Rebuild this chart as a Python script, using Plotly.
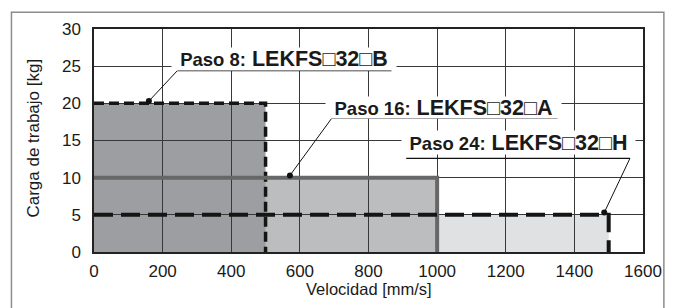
import plotly.graph_objects as go

# ---- data ----
speed_ticks = [0, 200, 400, 600, 800, 1000, 1200, 1400, 1600]
load_ticks = [0, 5, 10, 15, 20, 25, 30]
step_labels = ["Paso 8:", "Paso 16:", "Paso 24:"]
model_labels = ["LEKFS\u25a132\u25a1B", "LEKFS\u25a132\u25a1A", "LEKFS\u25a132\u25a1H"]
max_speed = [500, 1000, 1500]      # mm/s
max_load = [20, 10, 5]             # kg
dot_speed = [160, 571, 1487]       # leader-line anchor points on each curve
dot_load = [20.3, 10.3, 5.3]

# ---- styles ----
fill_colors = ["#9d9ea1", "#bcbdbf", "#e0e1e2"]
line_styles = [
    dict(color="#151515", width=3.5, dash="10px,5px"),
    dict(color="#676767", width=4, dash="solid"),
    dict(color="#151515", width=4, dash="19px,8px"),
]
# label boxes: (centre x, centre y, width px, height px, underline x0, x1, underline y)
label_boxes = [
    (553, 26.0, 224, 22, 243, 867, 24.4),
    (1019, 19.45, 235, 21, 693, 1351, 18.0),
    (1236, 14.7, 233, 23, 910, 1562, 12.6),
]
leader_start = [(243, 24.4), (693, 18.0), (1562, 12.6)]

FONT = "Liberation Sans, Arial, Helvetica, sans-serif"
TXT = "#1a1a1a"

fig = go.Figure()

shapes = []
# filled regions (below grid lines), draw widest/lightest first
for i in [2, 1, 0]:
    shapes.append(dict(type="rect", xref="x", yref="y", x0=0, x1=max_speed[i],
                       y0=0, y1=max_load[i], fillcolor=fill_colors[i],
                       line=dict(width=0), layer="below"))

# boundary lines
for i in range(3):
    fig.add_trace(go.Scatter(
        x=[0, max_speed[i], max_speed[i]], y=[max_load[i], max_load[i], 0],
        mode="lines", line=line_styles[i], showlegend=False, hoverinfo="skip"))

# leader lines and underlines
for i in range(3):
    cx, cy, w, h, ux0, ux1, uy = label_boxes[i]
    sx, sy = leader_start[i]
    shapes.append(dict(type="line", xref="x", yref="y", x0=sx, y0=sy,
                       x1=dot_speed[i], y1=dot_load[i],
                       line=dict(color="#111", width=1), layer="above"))
    shapes.append(dict(type="line", xref="x", yref="y", x0=ux0, y0=uy,
                       x1=ux1, y1=uy, line=dict(color="#111", width=1.2),
                       layer="above"))

# dots
fig.add_trace(go.Scatter(x=dot_speed, y=dot_load, mode="markers",
                         marker=dict(color="#111", size=6),
                         showlegend=False, hoverinfo="skip"))

# page pixel -> paper coordinates (the page body has an 8px margin)
def px_x(px):
    return (px - 94) / 552

def px_y(py):
    return (252 - py) / 226

shapes.append(dict(type="rect", xref="paper", yref="paper",
                   x0=px_x(11), x1=px_x(667), y0=px_y(330), y1=px_y(9),
                   line=dict(color="#8c8c8c", width=1.5), fillcolor="rgba(0,0,0,0)",
                   layer="below"))

annotations = []
for i in range(3):
    cx, cy, w, h, ux0, ux1, uy = label_boxes[i]
    annotations.append(dict(
        x=cx, y=cy, xref="x", yref="y", showarrow=False,
        text=f"<b><span style='font-size:18.5px'>{step_labels[i]}</span> {model_labels[i]}</b>",
        font=dict(family=FONT, size=21.5, color=TXT),
        bgcolor="white", width=w, height=h, borderpad=0,
        xanchor="center", yanchor="middle", align="center"))

annotations.append(dict(x=px_x(33), y=0.51, xref="paper", yref="paper",
                        text="Carga de trabajo [kg]", textangle=-90, showarrow=False,
                        font=dict(family=FONT, size=17, color=TXT),
                        xanchor="center", yanchor="middle"))
annotations.append(dict(x=px_x(371), y=px_y(290), xref="paper", yref="paper",
                        text="Velocidad [mm/s]", showarrow=False,
                        font=dict(family=FONT, size=16.5, color=TXT),
                        xanchor="center", yanchor="middle"))

axis_common = dict(showgrid=True, gridcolor="#383838", gridwidth=1,
                   showline=True, linecolor="#222", linewidth=1.5, mirror=True,
                   ticks="", zeroline=False,
                   tickfont=dict(family=FONT, size=17, color=TXT))

fig.update_layout(
    width=666, height=300,
    margin=dict(l=86, r=28, t=18, b=56),
    paper_bgcolor="white", plot_bgcolor="white",
    xaxis=dict(range=[0, 1600], tickvals=speed_ticks, ticklabelstandoff=3, **axis_common),
    yaxis=dict(range=[0, 30], tickvals=load_ticks, ticklabelstandoff=8, **axis_common),
    shapes=shapes, annotations=annotations,
    showlegend=False,
)

fig.write_html("out.html")
